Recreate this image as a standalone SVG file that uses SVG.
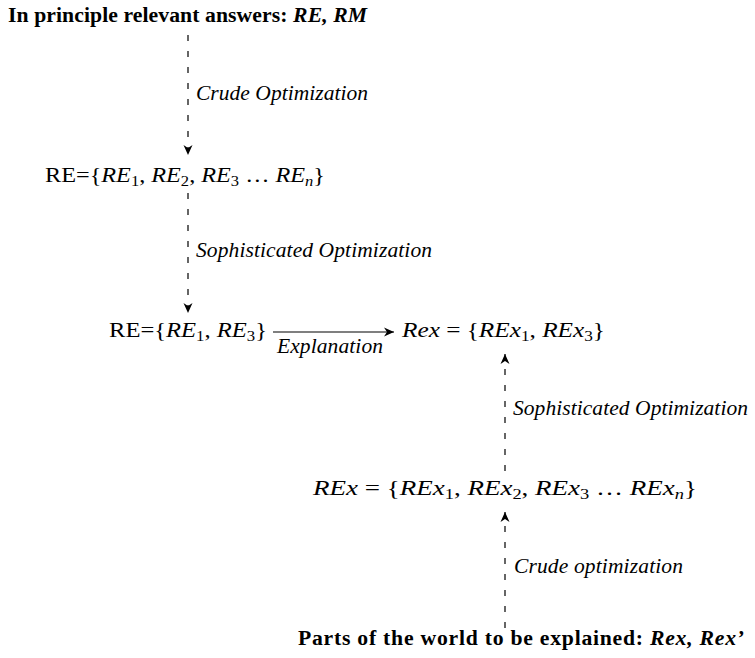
<svg xmlns="http://www.w3.org/2000/svg" width="755" height="658" viewBox="0 0 755 658">
<style>
.t{font-family:"Liberation Serif","Times New Roman",serif;font-size:21.7px;font-weight:bold;fill:#000}
.l{font-family:"Liberation Serif","Times New Roman",serif;font-size:21.5px;font-style:italic;fill:#000}
.m{font-family:"Liberation Serif","Times New Roman",serif;font-size:22px;fill:#000}
.i{font-style:italic}
.s{font-size:15px}
.d{stroke:#000;stroke-width:1.2;stroke-dasharray:6 10;fill:none}
.a{stroke:#000;stroke-width:1.2;fill:none}
</style>
<defs>
<marker id="ah" markerUnits="userSpaceOnUse" markerWidth="12" markerHeight="10" viewBox="-11 -5 12 10" refX="0" refY="0" orient="auto"><path d="M0,0 L-10,-4.5 L-7,0 L-10,4.5 Z" fill="#000"/></marker>
</defs>
<g id="connectors">
<line class="d" x1="188" y1="35" x2="188" y2="155" marker-end="url(#ah)"/>
<line class="d" x1="188" y1="193" x2="188" y2="313" marker-end="url(#ah)"/>
<line class="a" x1="273" y1="332" x2="394" y2="332" marker-end="url(#ah)"/>
<line class="d" x1="505" y1="471" x2="505" y2="354" marker-end="url(#ah)"/>
<line class="d" x1="505" y1="628" x2="505" y2="512" marker-end="url(#ah)"/>
<text class="l" x="196" y="100" textLength="172" lengthAdjust="spacing">Crude Optimization</text>
<text class="l" x="196" y="257" textLength="236" lengthAdjust="spacing">Sophisticated Optimization</text>
<text class="l" x="277" y="353" textLength="106" lengthAdjust="spacing">Explanation</text>
<text class="l" x="513" y="415" textLength="235" lengthAdjust="spacing">Sophisticated Optimization</text>
<text class="l" x="514" y="573" textLength="169" lengthAdjust="spacing">Crude optimization</text>
</g>
<g id="n-top">
<text class="t" x="8" y="22" textLength="359" lengthAdjust="spacing">In principle relevant answers: <tspan font-style="italic">RE, RM</tspan></text>
</g>
<g id="n-re-all">
<text class="m" x="45" y="182" textLength="280" lengthAdjust="spacingAndGlyphs">RE={<tspan class="i">RE</tspan><tspan class="s" dy="4">1</tspan><tspan dy="-4">, </tspan><tspan class="i">RE</tspan><tspan class="s" dy="4">2</tspan><tspan dy="-4">, </tspan><tspan class="i">RE</tspan><tspan class="s" dy="4">3</tspan><tspan dy="-4"> … </tspan><tspan class="i">RE</tspan><tspan class="s i" dy="4">n</tspan><tspan dy="-4">}</tspan></text>
</g>
<g id="n-re-sel">
<text class="m" x="109" y="337" textLength="158" lengthAdjust="spacingAndGlyphs">RE={<tspan class="i">RE</tspan><tspan class="s" dy="4">1</tspan><tspan dy="-4">, </tspan><tspan class="i">RE</tspan><tspan class="s" dy="4">3</tspan><tspan dy="-4">}</tspan></text>
</g>
<g id="n-rex">
<text class="m" x="402" y="337" textLength="203" lengthAdjust="spacingAndGlyphs"><tspan class="i">Rex</tspan> = {<tspan class="i">REx</tspan><tspan class="s" dy="4">1</tspan><tspan dy="-4">, </tspan><tspan class="i">REx</tspan><tspan class="s" dy="4">3</tspan><tspan dy="-4">}</tspan></text>
</g>
<g id="n-rex-all">
<text class="m" x="313" y="495" textLength="384" lengthAdjust="spacingAndGlyphs"><tspan class="i">REx</tspan> = {<tspan class="i">REx</tspan><tspan class="s" dy="4">1</tspan><tspan dy="-4">, </tspan><tspan class="i">REx</tspan><tspan class="s" dy="4">2</tspan><tspan dy="-4">, </tspan><tspan class="i">REx</tspan><tspan class="s" dy="4">3</tspan><tspan dy="-4"> … </tspan><tspan class="i">REx</tspan><tspan class="s i" dy="4">n</tspan><tspan dy="-4">}</tspan></text>
</g>
<g id="n-bottom">
<text class="t" x="298" y="645" textLength="446" lengthAdjust="spacing">Parts of the world to be explained: <tspan font-style="italic">Rex, Rex’</tspan></text>
</g>
</svg>
